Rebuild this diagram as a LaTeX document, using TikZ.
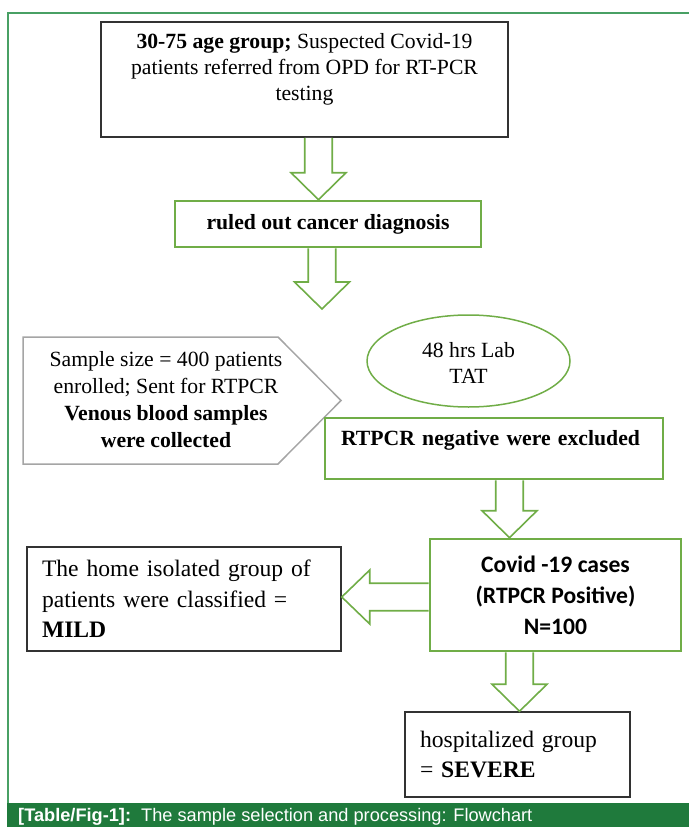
\documentclass[tikz,border=0pt]{standalone}
\usepackage{fontspec}
\setmainfont{Liberation Serif}
\newfontfamily\calibrifont{Carlito}
\newfontfamily\captionfont{Liberation Sans}
\usetikzlibrary{calc,shapes.geometric}

\definecolor{boxgreen}{RGB}{112,173,71}
\definecolor{framegreen}{RGB}{72,160,100}
\definecolor{bannergreen}{RGB}{31,122,60}
\definecolor{signalgray}{RGB}{165,165,165}
\definecolor{boxblack}{RGB}{50,50,50}

% hollow block arrows, #1 = start, #2 = tip
\newcommand{\blockdown}[2]{%
  \filldraw[blockarrow] let \p1=(#1), \p2=(#2) in
    (\x2-13.75pt,\y1) -- (\x2-13.75pt,\y2+27pt) -- (\x2-27.5pt,\y2+27pt) -- (\x2,\y2)
    -- (\x2+27.5pt,\y2+27pt) -- (\x2+13.75pt,\y2+27pt) -- (\x2+13.75pt,\y1);}
\newcommand{\blockleft}[2]{%
  \filldraw[blockarrow] let \p1=(#1), \p2=(#2) in
    (\x1,\y2-13.75pt) -- (\x2+28pt,\y2-13.75pt) -- (\x2+28pt,\y2-27pt) -- (\x2,\y2)
    -- (\x2+28pt,\y2+27pt) -- (\x2+28pt,\y2+13.75pt) -- (\x1,\y2+13.75pt);}

\begin{document}
\begin{tikzpicture}[x=1pt,y=-1pt,
    blackbox/.style={draw=boxblack, line width=1.5pt, rectangle},
    greenbox/.style={draw=boxgreen, line width=2.6pt, rectangle},
    blockarrow/.style={draw=boxgreen, fill=white, line width=1.6pt, line join=miter},
    timesfont/.style={font=\fontsize{21.7}{26}\selectfont},
    bigfont/.style={font=\fontsize{23.6}{30.5}\selectfont}]
\useasboundingbox (0,0) rectangle (689,827);

% frame and caption bar
\draw[framegreen, line width=2pt] (8,803) -- (8,13) -- (689,13);
\fill[bannergreen] (7,803) rectangle (689,827);
\node[anchor=base west, inner sep=0pt, text=white, font=\captionfont\fontsize{18.2}{22}\selectfont] (caption) at (18,821.5)
    {\textbf{[Table/Fig-1]:}\ \ The sample selection and processing: Flowchart};

\node[blackbox, minimum width=407pt, minimum height=115pt, align=center, timesfont] (patients) at (304.5,79.5)
    {\textbf{30-75 age group;} Suspected Covid-19\\patients referred from OPD for RT-PCR\\testing\\~};
\node[greenbox, minimum width=306pt, minimum height=46pt, timesfont] (ruled) at (328,224)
    {\textbf{ruled out cancer diagnosis}};

%\node[signal] ...
\draw[signalgray, line width=1.5pt, line join=miter] (23,337) -- (278,337) -- (341,400.5) -- (278,464) -- (23,464) -- cycle;
\node[align=center, font=\fontsize{21.7}{27}\selectfont] (sample) at (166,400)
    {Sample size = 400 patients\\enrolled; Sent for RTPCR\\\textbf{Venous blood samples}\\\textbf{were collected}};

\node[ellipse, draw=boxgreen, line width=1.5pt, minimum width=203pt, minimum height=92pt, inner sep=0pt,
    align=center, timesfont] (tat) at (468.5,361) {\\[-8pt]48 hrs Lab\\TAT};
\node[greenbox, minimum width=338pt, minimum height=61pt, inner xsep=16pt, text width=306pt, align=left,
    text depth=21pt, timesfont] (negative) at (494,448.5) {\textbf{RTPCR negative were excluded}};

\node[greenbox, minimum width=251pt, minimum height=112pt, align=center,
    font=\calibrifont\bfseries\fontsize{23.6}{31}\selectfont] (covid) at (555.5,595)
    {Covid -19 cases\\(RTPCR Positive)\\N=100};
\node[blackbox, minimum width=314pt, minimum height=104pt, inner xsep=15pt, text width=284pt, align=left,
    bigfont] (mild) at (184,599) {The home isolated group of\\patients were classified =\\\textbf{MILD}};
\node[blackbox, minimum width=225pt, minimum height=85pt, inner xsep=15pt, text width=195pt, align=left,
    bigfont] (severe) at (517.5,754.5) {hospitalized group\\= \textbf{SEVERE}};

\coordinate (gap) at (322,309);
\blockdown{318.5,0 |- patients.south}{318.5,0 |- ruled.north}
\blockdown{322,0 |- ruled.south}{gap}
\blockdown{509.5,0 |- negative.south}{509.5,0 |- covid.north}
\blockleft{covid.west |- 0,597}{mild.east |- 0,597}
\blockdown{519.5,0 |- covid.south}{519.5,0 |- severe.north}
\end{tikzpicture}
\end{document}
